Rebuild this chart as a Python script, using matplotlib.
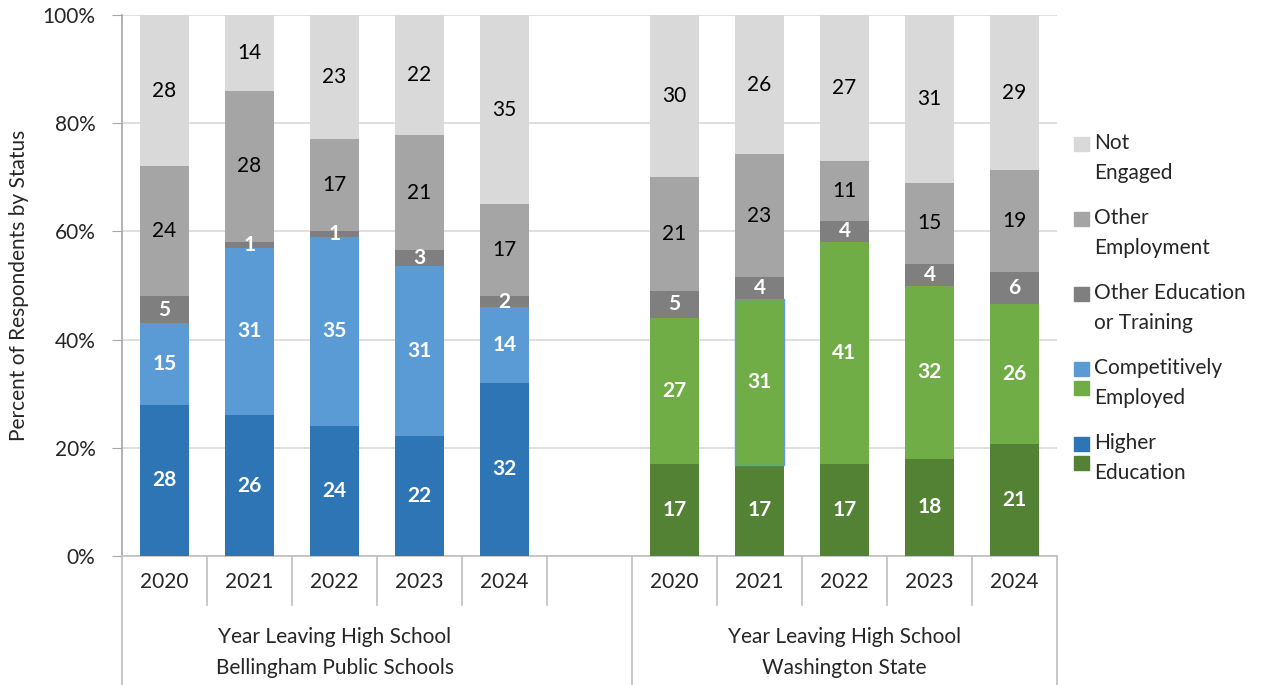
import numpy as np
import matplotlib
matplotlib.use('Agg')
import matplotlib.pyplot as plt
from matplotlib.patches import Rectangle

plt.rcParams['font.family'] = ['Lato', 'DejaVu Sans']

years = ['2020', '2021', '2022', '2023', '2024']
groups = ['Bellingham Public Schools', 'Washington State']
statuses = ['Higher Education', 'Competitively Employed',
            'Other Education or Training', 'Other Employment', 'Not Engaged']

# percent of respondents, one list per status, 2020..2024
bps_higher_ed = [28, 26, 24, 22, 32]
bps_competitive = [15, 31, 35, 31, 14]
bps_other_ed = [5, 1, 1, 3, 2]
bps_other_emp = [24, 28, 17, 21, 17]
bps_not_engaged = [28, 14, 23, 22, 35]

wa_higher_ed = [17, 17, 17, 18, 21]
wa_competitive = [27, 31, 41, 32, 26]
wa_other_ed = [5, 4, 4, 4, 6]
wa_other_emp = [21, 23, 11, 15, 19]
wa_not_engaged = [30, 26, 27, 31, 29]

bps = np.array([bps_higher_ed, bps_competitive, bps_other_ed, bps_other_emp, bps_not_engaged], dtype=float)
wa = np.array([wa_higher_ed, wa_competitive, wa_other_ed, wa_other_emp, wa_not_engaged], dtype=float)

BPS_COLORS = ['#2E75B6', '#5B9BD5', '#7F7F7F', '#A5A5A5', '#D9D9D9']
WA_COLORS = ['#548235', '#70AD47', '#7F7F7F', '#A5A5A5', '#D9D9D9']
LABEL_COLORS = ['white', 'white', 'white', 'black', 'black']
LABEL_WEIGHTS = ['bold', 'bold', 'bold', 'normal', 'normal']

W, H = 1275, 685
fig = plt.figure(figsize=(W / 100, H / 100), dpi=100)
x0, x1, ytop, ybot = 122, 1057, 15, 556
ax = fig.add_axes([x0 / W, 1 - ybot / H, (x1 - x0) / W, (ybot - ytop) / H])

FS = 15
BAR_W = 0.58

def draw_group(data, xs, colors):
    # 100% stacked: scale each year to its own total
    pct = data / data.sum(axis=0) * 100
    bottom = np.zeros(len(xs))
    containers = []
    for k in range(len(data)):
        bc = ax.bar(xs, pct[k], BAR_W, bottom=bottom, color=colors[k], zorder=3, linewidth=0)
        containers.append(bc)
        for x, b, h, v in zip(xs, bottom, pct[k], data[k]):
            ax.text(x, b + h / 2, '%d' % v, ha='center', va='center', fontsize=FS,
                    color=LABEL_COLORS[k], fontweight=LABEL_WEIGHTS[k], zorder=4)
        bottom += pct[k]
    return containers

left_x = np.arange(5)
right_x = np.arange(6, 11)
draw_group(bps, left_x, BPS_COLORS)
wa_bars = draw_group(wa, right_x, WA_COLORS)
# the 2021 state segment carries a thin blue outline
seg = wa_bars[1].patches[1]
seg.set_edgecolor(BPS_COLORS[1])
seg.set_linewidth(1.0)

ax.set_xlim(-0.5, 10.5)
ax.set_ylim(0, 100)
ax.set_yticks(range(0, 101, 20))
ax.set_yticklabels(['%d%%' % v for v in range(0, 101, 20)], fontsize=FS, color='#262626')
ax.tick_params(axis='y', length=7, color='#A6A6A6', pad=12)
ax.set_xticks([])
ax.grid(axis='y', color='#D9D9D9', linewidth=1.2, zorder=0)
for s in ['top', 'right']:
    ax.spines[s].set_visible(False)
ax.spines['left'].set_color('#A6A6A6')
ax.spines['bottom'].set_color('#BFBFBF')
ax.spines['left'].set_linewidth(1.2)
ax.spines['bottom'].set_linewidth(1.2)
ax.set_ylabel('Percent of Respondents by Status', fontsize=FS, color='#262626', labelpad=10)

# two-level category axis
tr = ax.get_xaxis_transform()
ah = ybot - ytop
short = -(605 - ybot) / ah
full = -(H - ybot) / ah
line_kw = dict(transform=tr, clip_on=False, color='#BFBFBF', linewidth=1.2)
for b in [0.5, 1.5, 2.5, 3.5, 4.5, 6.5, 7.5, 8.5, 9.5]:
    ax.plot([b, b], [0, short], **line_kw)
for b in [-0.5, 5.5, 10.5]:
    ax.plot([b, b], [0, full], **line_kw)
yr_y = -(582 - ybot) / ah
for xs in (left_x, right_x):
    for x, yr in zip(xs, years):
        ax.text(x, yr_y, yr, transform=tr, ha='center', va='center', fontsize=FS, color='#262626')
grp_centers = [2.0, 8.0]
for c, g in zip(grp_centers, groups):
    ax.text(c, -(637 - ybot) / ah, 'Year Leaving High School', transform=tr,
            ha='center', va='center', fontsize=FS, color='#262626')
    ax.text(c, -(668 - ybot) / ah, g, transform=tr,
            ha='center', va='center', fontsize=FS, color='#262626')

# legend, drawn by hand so the two shared entries get blue and green swatches
legend_items = [
    (['Not', 'Engaged'], [BPS_COLORS[4]], 143),
    (['Other', 'Employment'], [BPS_COLORS[3]], 218),
    (['Other Education', 'or Training'], [BPS_COLORS[2]], 293),
    (['Competitively', 'Employed'], [BPS_COLORS[1], WA_COLORS[1]], 368),
    (['Higher', 'Education'], [BPS_COLORS[0], WA_COLORS[0]], 443),
]
for lines, cols, ty in legend_items:
    for i, c in enumerate(cols):
        py = ty - 6 + i * 19
        fig.patches.append(Rectangle((1074 / W, 1 - (py + 14) / H), 15 / W, 14 / H,
                                     transform=fig.transFigure, color=c))
    for i, t in enumerate(lines):
        fig.text(1094 / W, 1 - (ty + i * 30) / H, t, ha='left', va='center',
                 fontsize=FS, color='#262626')

fig.savefig('out.png', dpi=100)
